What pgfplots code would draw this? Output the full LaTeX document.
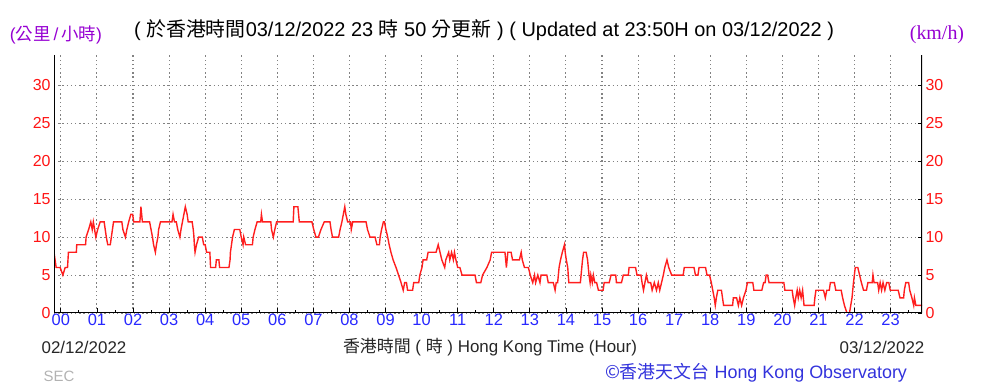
\documentclass[border=0pt]{standalone}
\usepackage{pgfplots}
\usepackage{pgfplotstable}
\pgfplotsset{compat=1.18}
\usepackage{fontspec}
\setmainfont{Liberation Sans}
\newfontfamily\cjk{Noto Sans CJK TC}
\newfontfamily\serifk{Liberation Serif}
\newcommand{\zh}[1]{{\cjk #1}}
\definecolor{wred}{RGB}{255,30,30}
\definecolor{tred}{RGB}{255,20,20}
\definecolor{tblue}{RGB}{40,40,255}
\definecolor{hkoblue}{RGB}{50,50,220}
\definecolor{upurple}{RGB}{150,0,210}
\definecolor{gridg}{RGB}{130,130,130}

\pgfplotstableread{
h v
-0.19 8
-0.13 6
-0.02 6
0.056 5
0.12 6
0.185 6
0.21 8
0.43 8
0.44 9
0.685 9
0.70 10
0.77 11
0.83 12
0.87 11
0.90 12
0.97 10
1.02 11
1.09 12
1.20 12
1.23 11
1.26 10
1.30 9
1.37 9
1.40 10
1.43 11
1.46 12
1.69 12
1.72 11
1.79 10
1.83 11
1.88 12
1.94 13
1.99 13
2.02 12
2.19 12
2.22 14
2.26 12
2.46 12
2.50 11
2.54 10
2.57 9
2.62 8
2.65 9
2.69 10
2.71 11
2.76 12
3.08 12
3.11 13
3.15 12
3.20 12
3.24 11
3.30 10
3.33 11
3.37 12
3.41 13
3.45 14
3.50 13
3.53 12
3.64 12
3.67 11
3.69 10
3.70 9
3.72 8
3.76 9
3.82 10
3.92 10
3.96 9
4.00 9
4.04 8
4.13 8
4.15 6
4.29 6
4.31 7
4.38 7
4.40 6
4.66 6
4.69 7
4.70 8
4.73 9
4.76 10
4.81 11
4.96 11
5.00 10
5.05 9
5.07 10
5.12 9
5.31 9
5.33 10
5.38 11
5.44 12
5.54 12
5.56 13
5.59 12
5.82 12
5.84 11
5.89 10
5.93 11
5.98 12
6.44 12
6.46 14
6.57 14
6.61 12
6.96 12
7.01 11
7.07 10
7.14 10
7.21 11
7.30 12
7.46 12
7.49 11
7.53 10
7.70 10
7.74 11
7.79 12
7.83 13
7.87 14
7.90 13
7.95 12
8.03 12
8.05 11
8.09 12
8.46 12
8.50 11
8.57 10
8.71 10
8.76 9
8.83 9
8.85 10
8.89 11
8.94 12
8.97 12
9.01 11
9.06 10
9.10 9
9.15 8
9.21 7
9.29 6
9.36 5
9.43 4
9.49 3
9.53 4
9.58 4
9.61 3
9.75 3
9.78 4
9.92 4
9.95 5
10.01 6
10.04 7
10.14 7
10.18 8
10.40 8
10.46 9
10.51 8
10.56 7
10.64 6
10.67 7
10.75 8
10.78 7
10.83 8
10.88 7
10.91 8
10.95 7
11.00 6
11.06 6
11.12 5
11.48 5
11.52 4
11.64 4
11.69 5
11.81 6
11.90 7
11.94 8
12.31 8
12.35 6
12.39 8
12.48 8
12.52 7
12.71 7
12.76 8
12.79 7
12.85 6
12.96 6
13.01 5
13.08 4
13.13 5
13.16 4
13.22 5
13.28 4
13.31 5
13.47 5
13.51 4
13.65 4
13.70 3
13.73 4
13.77 4
13.81 6
13.85 7
13.90 8
13.96 9
13.98 8
14.01 7
14.05 6
14.08 4
14.40 4
14.42 5
14.44 6
14.46 7
14.49 8
14.56 8
14.60 7
14.62 6
14.64 5
14.67 4
14.69 5
14.73 4
14.76 5
14.80 4
14.85 4
14.90 3
15.03 3
15.06 4
15.20 4
15.25 5
15.38 5
15.40 4
15.54 4
15.59 5
15.73 5
15.75 6
15.93 6
15.97 5
16.08 5
16.11 4
16.15 3
16.19 4
16.23 5
16.28 4
16.35 4
16.39 3
16.45 4
16.51 3
16.56 4
16.60 3
16.65 4
16.70 5
16.74 6
16.80 7
16.85 6
16.93 5
17.25 5
17.28 6
17.55 6
17.59 5
17.66 5
17.69 6
17.87 6
17.91 5
17.98 5
18.03 4
18.07 3
18.11 2
18.14 1
18.17 2
18.21 3
18.31 3
18.34 2
18.37 1
18.62 1
18.64 2
18.73 2
18.78 1
18.82 2
18.87 1
18.92 2
18.99 3
19.03 4
19.18 4
19.21 3
19.43 3
19.48 4
19.52 4
19.55 5
19.59 5
19.63 4
20.04 4
20.07 3
20.27 3
20.30 2
20.34 1
20.37 2
20.41 3
20.44 2
20.48 3
20.52 2
20.56 3
20.60 1
20.88 1
20.90 2
20.93 3
21.14 3
21.19 2
21.23 3
21.30 3
21.33 4
21.44 4
21.48 3
21.63 3
21.67 2
21.72 1
21.79 0
21.86 0
21.93 2
21.97 4
22.02 6
22.09 6
22.14 5
22.19 4
22.25 3
22.33 3
22.37 4
22.49 4
22.51 5
22.54 4
22.64 4
22.67 3
22.71 4
22.75 3
22.79 4
22.84 3
22.89 4
22.95 4
22.99 3
23.21 3
23.26 2
23.36 2
23.38 3
23.42 4
23.50 4
23.53 3
23.59 2
23.64 1
23.66 2
23.70 1
23.87 1
}\windtab

\begin{document}
\begin{tikzpicture}
\useasboundingbox (0bp,0bp) rectangle (983bp,388bp);
\pgfplotsset{
  hkobase/.style={
    at={(54bp,75bp)}, anchor=south west, scale only axis,
    width=868bp, height=258bp,
    xmin=-0.19, xmax=23.87, ymin=0, ymax=34,
    axis line style={draw=none},
    ytick={0,5,...,30},
    /pgf/number format/assume math mode=true,
    yticklabel style={text=tred, font=\fontsize{16}{16}\selectfont},
  }
}
\begin{axis}[hkobase,
  xtick={0,...,23},
  xticklabels={00,01,02,03,04,05,06,07,08,09,10,11,12,13,14,15,16,17,18,19,20,21,22,23},
  minor xtick={0.5,1.5,...,23.5},
  xtick pos=bottom, ytick pos=left,
  tick align=inside,
  major tick length=5bp, minor tick length=3bp,
  ytick style={draw=none},
  xtick style={black, line width=0.8bp},
  minor tick style={black, line width=0.8bp},
  grid=major,
  major grid style={draw=gridg, line width=1.1bp, dash pattern=on 1.3bp off 2.9bp},
  xticklabel style={text=tblue, font=\fontsize{16.5}{16.5}\selectfont, yshift=2bp},
]
\addplot[draw=wred, line width=1.4bp] table[x=h, y=v]{\windtab};
\draw[black, line width=1.4bp] (rel axis cs:0,1) -- (rel axis cs:0,0) -- (rel axis cs:1,0) -- (rel axis cs:1,1);
\end{axis}
\begin{axis}[hkobase,
  xtick=\empty,
  ytick pos=right, yticklabel pos=right,
  tick align=inside, major tick length=4bp,
  ytick style={black, line width=0.8bp},
]
\end{axis}

% titles and annotations
\node[text=upurple, font=\fontsize{17.5}{17.5}\selectfont] at (56bp,353bp) {(\zh{公里}\,/\,\zh{小時})};
\node[text=black, font=\fontsize{20}{20}\selectfont] at (484bp,358bp)
  {( \zh{於香港時間}03/12/2022 23 \zh{時} 50 \zh{分更新} ) ( Updated at 23:50H on 03/12/2022 )};
\node[text=upurple, font=\serifk\fontsize{20}{20}\selectfont] at (937bp,353bp) {(km/h)};

\node[text=black!85, font=\fontsize{17}{17}\selectfont] at (84bp,41bp) {02/12/2022};
\node[text=black!85, font=\fontsize{17}{17}\selectfont] at (490bp,41bp) {\zh{香港時間}\ ( \zh{時} )\ Hong Kong Time (Hour)};
\node[text=black!85, font=\fontsize{17}{17}\selectfont] at (882bp,41bp) {03/12/2022};
\node[text=black!30, font=\fontsize{15}{15}\selectfont] at (59bp,12bp) {SEC};
\node[text=hkoblue, font=\fontsize{18}{18}\selectfont] at (756bp,15bp) {\zh{©香港天文台} Hong Kong Observatory};
\end{tikzpicture}
\end{document}
